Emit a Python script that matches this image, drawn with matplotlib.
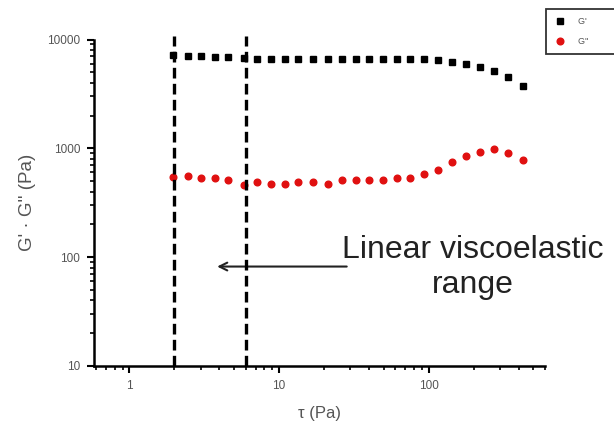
import matplotlib
matplotlib.use("Agg")
import matplotlib.pyplot as plt
from matplotlib.ticker import LogLocator, FixedLocator, NullFormatter

plt.rcParams['font.family'] = ['Liberation Sans', 'DejaVu Sans']

# stress (Pa)
stress = [1.97, 2.48, 3.03, 3.76, 4.59, 5.88, 7.18, 8.91, 10.9, 13.5, 17.0, 21.1,
          26.2, 32.5, 39.7, 49.2, 61.1, 74.6, 92.6, 115, 143, 177, 219, 272, 338, 425]
g_storage = [7200, 7100, 7000, 6950, 6900, 6700, 6550, 6550, 6550, 6550, 6550, 6550,
             6600, 6650, 6650, 6550, 6550, 6550, 6550, 6450, 6200, 5900, 5550, 5100, 4500, 3700]
g_loss = [551, 562, 533, 533, 514, 456, 490, 472, 472, 490, 490, 472,
          514, 514, 514, 514, 533, 533, 583, 635, 747, 859, 935, 984, 904, 784]
lvr_bounds = [2, 6]
x_ticks = [1, 10, 100]
x_ticklabels = ['1', '10', '100']
y_ticks = [10, 100, 1000, 10000]
y_ticklabels = ['10', '100', '1000', '10000']

W, H = 614, 426
fig = plt.figure(figsize=(W / 100, H / 100), dpi=100)
ax = fig.add_axes([94 / W, 1 - 366 / H, (545 - 94) / W, (366 - 39.5) / H])

ax.set_xscale('log')
ax.set_yscale('log')
ax.set_xlim(0.58, 600)
ax.set_ylim(10, 10000)

ax.plot(stress, g_storage, linestyle='none', marker='s', ms=4.6, color='black',
        label="G'          ", zorder=3)
ax.plot(stress, g_loss, linestyle='none', marker='o', ms=4.8, color='#e01010',
        mec='#e01010', label="G''          ", zorder=3)

for xb in lvr_bounds:
    ax.plot([xb, xb], [10, 10800], color='black', lw=2.4, linestyle=(0, (3.2, 1.6)),
            clip_on=False, zorder=4)

for s in ['top', 'right']:
    ax.spines[s].set_visible(False)
for s in ['left', 'bottom']:
    ax.spines[s].set_linewidth(1.8)

ax.xaxis.set_major_locator(FixedLocator(x_ticks))
ax.set_xticklabels(x_ticklabels)
ax.xaxis.set_minor_locator(LogLocator(base=10, subs=range(2, 10), numticks=20))
ax.xaxis.set_minor_formatter(NullFormatter())
ax.yaxis.set_major_locator(FixedLocator(y_ticks))
ax.set_yticklabels(y_ticklabels)
ax.yaxis.set_minor_locator(LogLocator(base=10, subs=range(2, 10), numticks=20))
ax.yaxis.set_minor_formatter(NullFormatter())

ax.tick_params(which='major', direction='out', length=5, width=1.5, labelsize=8.5,
               labelcolor='#555555', pad=5)
ax.tick_params(which='minor', direction='out', length=3, width=1.2)

ax.set_xlabel('τ (Pa)', fontsize=12, color='#555555', labelpad=10)
ax.set_ylabel("G' · G'' (Pa)", fontsize=13.5, color='#555555', labelpad=8)

ax.annotate('', xy=(3.7, 82), xytext=(29.6, 82),
            arrowprops=dict(arrowstyle='->', lw=1.5, color='#222222',
                            mutation_scale=14))
fig.text(472.5 / W, 1 - 258 / H, 'Linear viscoelastic', fontsize=23,
         ha='center', va='baseline', color='#222222')
fig.text(472.5 / W, 1 - 293 / H, 'range', fontsize=23,
         ha='center', va='baseline', color='#222222')

leg = ax.legend(loc='upper left', bbox_to_anchor=(546 / W, 1 - 9 / H),
                bbox_transform=fig.transFigure, fontsize=6.5, frameon=True,
                fancybox=False, borderaxespad=0, handlelength=1.4,
                handletextpad=1.3, borderpad=0.9, labelspacing=1.2)
leg.get_frame().set_edgecolor('black')
leg.get_frame().set_linewidth(1.3)
for t in leg.get_texts():
    t.set_color('#555555')

fig.savefig('out.png', dpi=100)
